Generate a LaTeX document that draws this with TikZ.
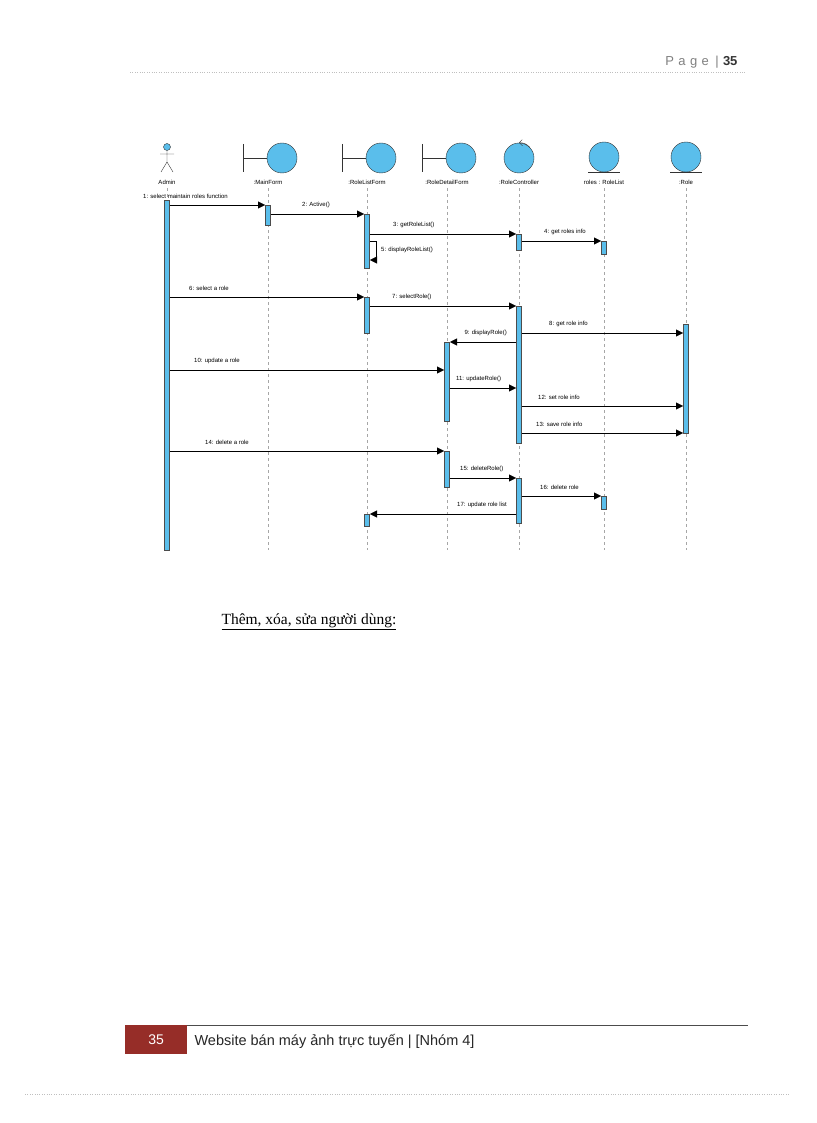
\documentclass[tikz,border=0pt]{standalone}
\usepackage{fontspec}
\setmainfont{Liberation Sans}
\newfontfamily\serifcap{Liberation Serif}
\usetikzlibrary{arrows.meta}
\definecolor{objblue}{RGB}{90,190,235}
\definecolor{footred}{RGB}{150,45,40}
\tikzstyle{lifeline} = [draw, dashed, gray!70, thin]
\tikzstyle{activation} = [draw=gray!60!black, fill=objblue, thin, minimum width=5pt, inner sep=0pt]
\tikzstyle{message} = [draw, -{Triangle[length=7pt,width=7pt]}, thin]
\tikzstyle{msg label} = [font=\fontsize{6}{7}\selectfont, anchor=south west, inner sep=1pt]
\tikzstyle{head} = [circle, draw=gray!40!black, fill=objblue, minimum width=26pt, minimum height=30pt, inner sep=0pt]
\tikzstyle{head label} = [font=\fontsize{6}{7}\selectfont, inner sep=1pt]
\def\lifelines{167/admin/Admin, 268/main/:MainForm, 367/list/:RoleListForm, 447/detail/:RoleDetailForm, 519/ctrl/:RoleController, 604/rlist/roles : RoleList, 686/role/:Role}
\def\activations{main/205/225, list/214/268, ctrl/234/250, rlist/241/254, list/297/333, ctrl/306/443, role/324/433, detail/342/421, detail/451/487, ctrl/478/523, rlist/496/509, list/514/526}
\def\messages{admin/main/205/-28/1: select maintain roles function, main/list/214/30/2: Active(), list/ctrl/234/22/3: getRoleList(), ctrl/rlist/241/21/4: get roles info, admin/list/297/18/6: select a role, list/ctrl/306/21/7: selectRole(), ctrl/role/333/26/8: get role info, admin/detail/370/23/10: update a role, detail/ctrl/388/5/11: updateRole(), ctrl/role/406/15/12: set role info, ctrl/role/433/13/13: save role info, admin/detail/451/34/14: delete a role, detail/ctrl/478/9/15: deleteRole(), ctrl/rlist/496/17/16: delete role}
\def\backMessages{ctrl/detail/342/9: displayRole(), ctrl/list/514/17: update role list}
\begin{document}
\begin{tikzpicture}[x=1pt,y=-1pt]
  \useasboundingbox (0,0) rectangle (816,1123);

  % page header
  \node[anchor=east, text=gray, font=\fontsize{13}{15}\selectfont] (pagehead) at (741,62) {P\,\,a\,\,g\,\,e\,\,\,|\,\,\textbf{\color{black!80}35}};
  \draw[gray!50, dotted] (130,72) -- (745,72);

  % lifelines
  \foreach \x/\name/\lbl in \lifelines {
    \coordinate (\name-top) at (\x,188);
    \coordinate (\name-bot) at (\x,550);
    \node[head label] (\name-lbl) at (\x,182) {\lbl};
    \path[lifeline] (\name-top) -- (\name-bot);
    }

  % heads
  \node[circle, draw=gray!40!black, fill=objblue, minimum size=7pt, inner sep=0pt] (admin-h) at (167,147) {};
  \draw[gray!40!black] (admin-h.south) -- (167,162) (160,154) -- (174,154) (161,172) -- (167,162) -- (173,172);
  \foreach \name/\x in {main/268, list/367, detail/447} {
    \node[head] (\name-head) at (\x+14,158) {};
    \draw[gray!40!black] (\x-25,144) -- (\x-25,172) (\x-25,158) -- (\name-head.west);
    }
  \node[head] (ctrl-head) at (519,158) {};
  \draw[gray!40!black, -{Straight Barb[length=3pt]}] (ctrl-head.north east) to[bend right=25] (ctrl-head.north);
  \foreach \name/\x in {rlist/604, role/686} {
    \node[head] (\name-head) at (\x,157) {};
    \draw[gray!40!black] (\x-16,172) -- (\x+16,172);
    }

  % activations
  \node[activation, minimum height=350pt, anchor=north] (admin-act) at (167,200) {};
  \foreach \name/\ya/\yb in \activations {
    \node[activation, minimum height=\yb-\ya, anchor=north] (\name-\ya) at (\name-top |- 0,\ya) {};
    }

  % messages
  \foreach \src/\dst/\y/\dx/\txt in \messages {
    \coordinate (s) at ([xshift=3pt]\src-top |- 0,\y);
    \coordinate (d) at ([xshift=-3pt]\dst-top |- 0,\y);
    \path[message] (s) -- (d);
    \node[msg label] at ([xshift=\dx pt,yshift=5pt]s) {\txt};
    }
  \foreach \src/\dst/\y/\txt in \backMessages {
    \coordinate (s) at ([xshift=-3pt]\src-top |- 0,\y);
    \coordinate (d) at ([xshift=3pt]\dst-top |- 0,\y);
    \path[message] (s) -- (d);
    \node[msg label, anchor=south east] at ([xshift=-8pt,yshift=5pt]s) {\txt};
    }
  \path[message] (370,241) -- (376,241) -- (376,260) -- (370,260);
  \node[msg label, anchor=west] (self-lbl) at (380,250) {5: displayRoleList()};

  % caption
  \node[anchor=west, font=\serifcap\fontsize{15.5}{18}\selectfont] (caption) at (218,622) {\underline{Thêm, xóa, sửa người dùng:}};

  % footer
  \node[fill=footred, text=white, minimum width=62pt, minimum height=29pt, inner sep=0pt, anchor=north west, font=\fontsize{14}{16}\selectfont] (pagenum) at (125,1025) {35};
  \draw[gray!60!black] (pagenum.north east) -- (748,1025);
  \node[anchor=west, text=gray!30!black, font=\fontsize{14.5}{16}\selectfont] (footer) at (191,1041) {Website bán máy ảnh trực tuyến | [Nhóm 4]};
  \draw[gray!50, dotted] (25,1094) -- (790,1094);
\end{tikzpicture}
\end{document}
